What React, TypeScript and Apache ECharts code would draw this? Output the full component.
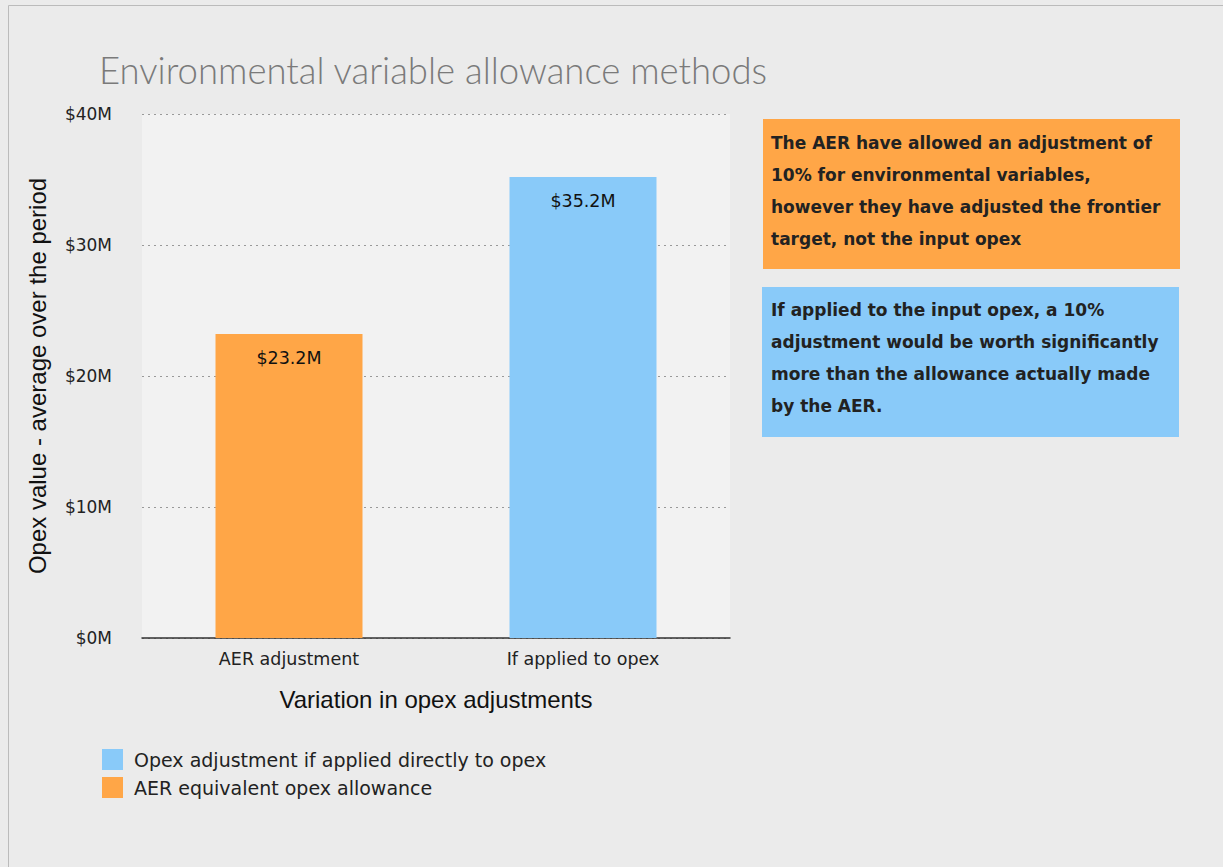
import React, { useEffect, useRef } from "react";
import * as echarts from "echarts";

const categories = ["AER adjustment", "If applied to opex"];
const seriesNames = ["Opex adjustment if applied directly to opex", "AER equivalent opex allowance"];
const appliedValues: (number | string)[] = ["-", 35.2];
const aerValues: (number | string)[] = [23.2, "-"];
const yTicks = [0, 10, 20, 30, 40];
const title = "Environmental variable allowance methods";
const yAxisName = "Opex value - average over the period";
const xAxisName = "Variation in opex adjustments";
const note1 = "The AER have allowed an adjustment of\n10% for environmental variables,\nhowever they have adjusted the frontier\ntarget, not the input opex";
const note2 = "If applied to the input opex, a 10%\nadjustment would be worth significantly\nmore than the allowance actually made\nby the AER.";

const ORANGE = "#FFA647";
const BLUE = "#89CAF9";
const BODY_FONT = "'DejaVu Sans', 'Open Sans', sans-serif";

export default function App() {
  const ref = useRef<HTMLDivElement>(null);
  useEffect(() => {
    if (!ref.current) return;
    const chart = echarts.init(ref.current, null, { renderer: "svg" });
    const labelStyle = {
      show: true,
      position: "insideTop" as const,
      distance: 15,
      color: "#111",
      fontSize: 17.5,
      fontFamily: BODY_FONT,
      formatter: (p: any) => "$" + Number(p.value).toFixed(1) + "M",
    };
    chart.setOption({
      animation: false,
      backgroundColor: "#ebebeb",
      title: {
        text: title,
        left: 94,
        top: 46,
        textStyle: {
          fontSize: 36.5,
          fontWeight: 300,
          color: "#7a7a7a",
          fontFamily: "Lato, 'Open Sans', sans-serif",
        },
      },
      grid: {
        left: 142,
        right: 493,
        top: 114,
        bottom: 229,
        show: true,
        backgroundColor: "#f2f2f2",
        borderWidth: 0,
      },
      legend: {
        orient: "vertical",
        left: 97,
        top: 744,
        itemWidth: 21,
        itemHeight: 21,
        itemGap: 7,
        icon: "rect",
        data: seriesNames,
        textStyle: { fontSize: 19, color: "#222", fontFamily: BODY_FONT, padding: [0, 0, 0, 6] },
      },
      xAxis: {
        type: "category",
        data: categories,
        name: xAxisName,
        nameLocation: "middle",
        nameGap: 49,
        nameTextStyle: { fontSize: 24, color: "#111", fontFamily: "'Liberation Sans', Arial, sans-serif" },
        axisLine: { lineStyle: { color: "#333", width: 1.5 } },
        axisTick: { show: false },
        axisLabel: { fontSize: 17.5, color: "#222", margin: 12, fontFamily: BODY_FONT },
      },
      yAxis: {
        type: "value",
        min: 0,
        max: 40,
        interval: 10,
        name: yAxisName,
        nameLocation: "middle",
        nameGap: 93,
        nameTextStyle: { fontSize: 24, color: "#111", fontFamily: "'Liberation Sans', Arial, sans-serif" },
        axisLine: { show: false },
        axisTick: { show: false },
        axisLabel: {
          fontSize: 17,
          color: "#222",
          margin: 30,
          fontFamily: BODY_FONT,
          formatter: (v: number) => (yTicks.includes(v) ? "$" + v + "M" : ""),
        },
        splitLine: { lineStyle: { color: "#999", type: [2, 4], width: 1 } },
      },
      series: [
        {
          name: seriesNames[0],
          type: "bar",
          data: appliedValues,
          barWidth: "50%",
          barGap: "-100%",
          itemStyle: { color: BLUE },
          label: labelStyle,
        },
        {
          name: seriesNames[1],
          type: "bar",
          data: aerValues,
          barWidth: "50%",
          itemStyle: { color: ORANGE },
          label: labelStyle,
        },
      ],
      graphic: [
        {
          type: "line",
          shape: { x1: 8.5, y1: 5.5, x2: 1223, y2: 5.5 },
          style: { stroke: "#bbb", lineWidth: 1 },
        },
        {
          type: "line",
          shape: { x1: 8.5, y1: 5.5, x2: 8.5, y2: 867 },
          style: { stroke: "#bbb", lineWidth: 1 },
        },
        {
          type: "rect",
          shape: { x: 763, y: 119, width: 417, height: 150 },
          style: { fill: ORANGE },
        },
        {
          type: "text",
          x: 771,
          y: 127,
          style: {
            text: note1,
            fill: "#222",
            font: "bold 17px 'DejaVu Sans', 'Open Sans', sans-serif",
            lineHeight: 32,
          },
        },
        {
          type: "rect",
          shape: { x: 762, y: 287, width: 417, height: 150 },
          style: { fill: BLUE },
        },
        {
          type: "text",
          x: 771,
          y: 294,
          style: {
            text: note2,
            fill: "#222",
            font: "bold 17px 'DejaVu Sans', 'Open Sans', sans-serif",
            lineHeight: 32,
          },
        },
      ],
    });
    return () => chart.dispose();
  }, []);
  return (
    <div style={{ position: "fixed", left: 0, top: 0, width: 1223, height: 867 }}>
      <div ref={ref} style={{ width: 1223, height: 867 }} />
    </div>
  );
}
